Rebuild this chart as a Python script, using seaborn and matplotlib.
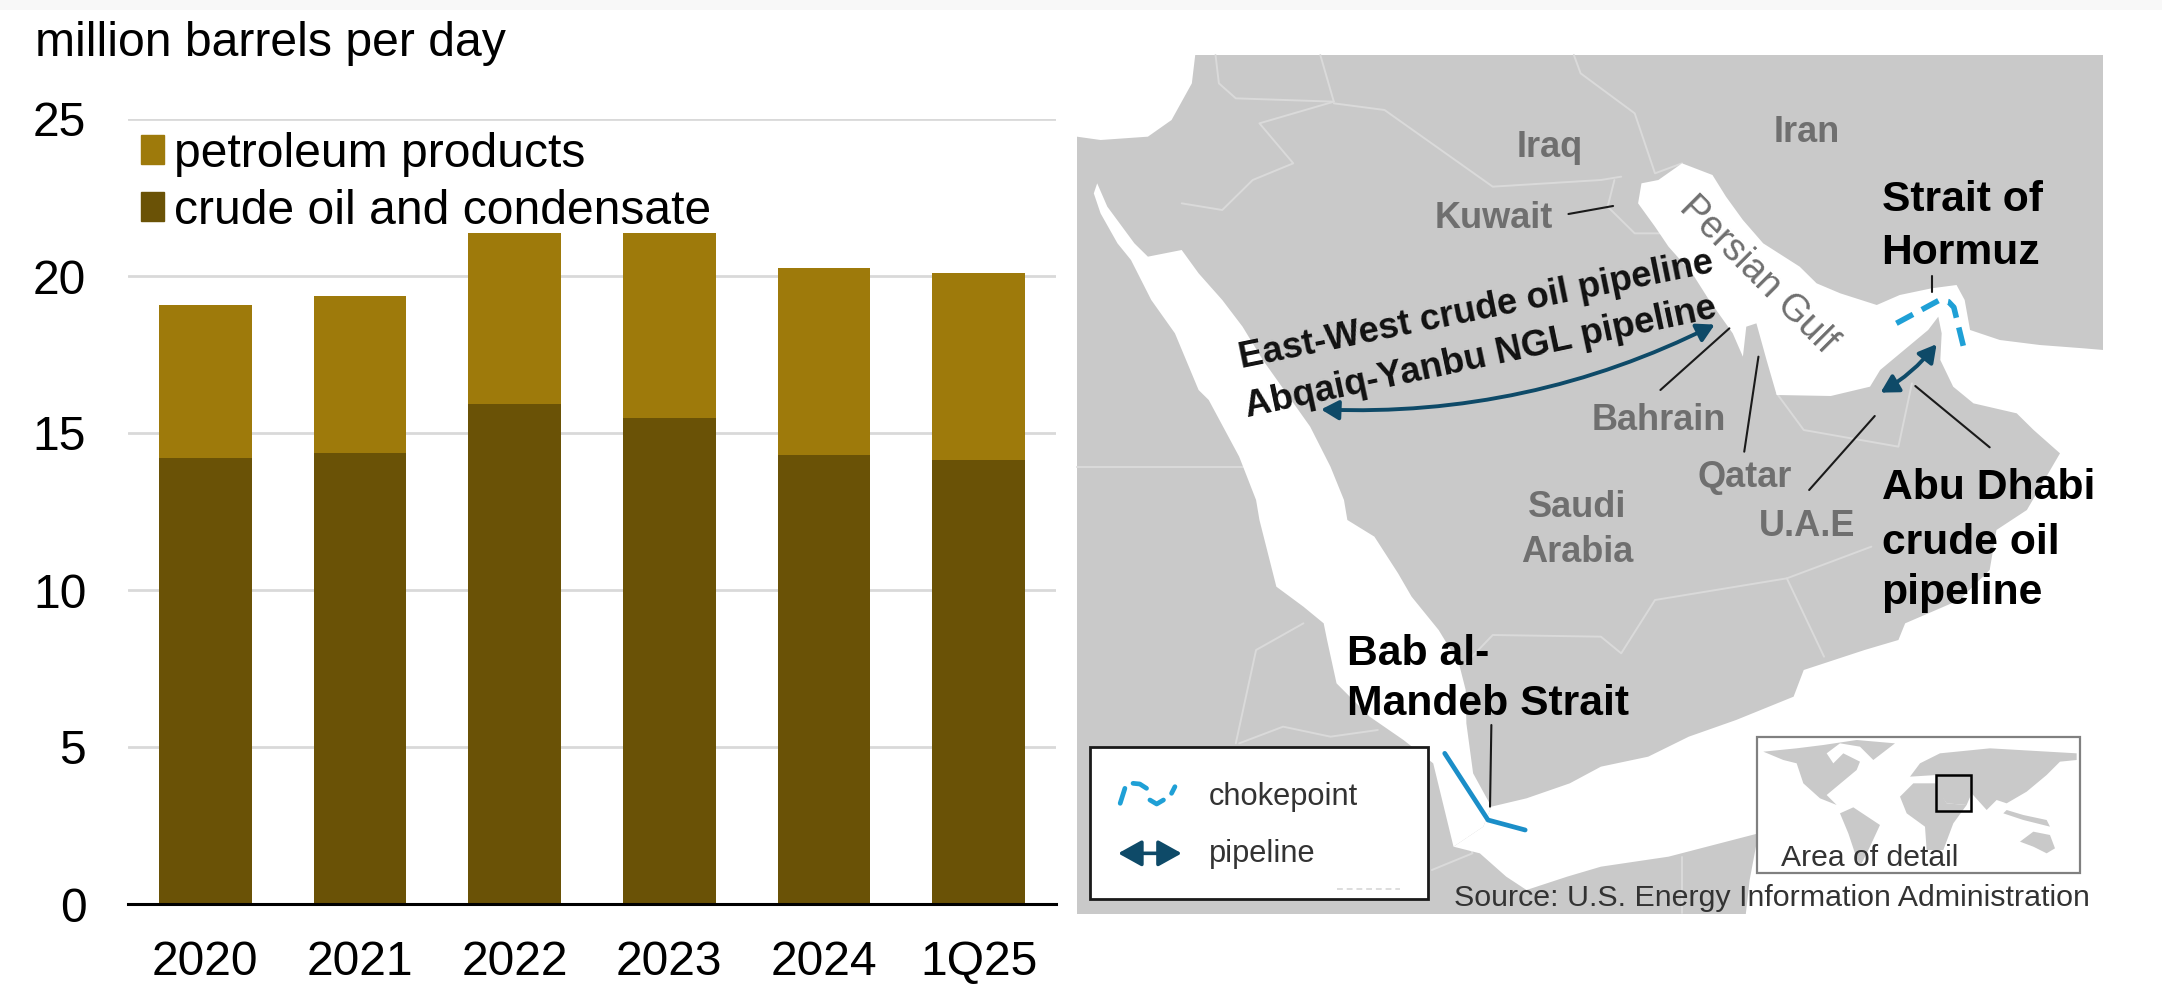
import numpy as np
import matplotlib
matplotlib.use("Agg")
import matplotlib.pyplot as plt
from matplotlib.patches import Patch, Polygon, Rectangle, FancyArrowPatch
import seaborn as sns

# Exports by period, million barrels per day
periods = ["2020", "2021", "2022", "2023", "2024", "1Q25"]
crude_oil = [14.2, 14.37, 15.92, 15.49, 14.3, 14.14]
petroleum_products = [4.88, 5.0, 5.44, 5.87, 5.95, 5.96]

PRODUCT_COLOR = "#9E7A0B"
CRUDE_COLOR = "#6A5206"
LAND = "#C9C9C9"
BORDER = "#DADADA"
NAVY = "#0E4A68"
CYAN = "#1FA0D6"
SHIFT = 1380  # offset of the southern half of the map grid


def south(points):
    return [(x, y + SHIFT) for x, y in points]


def inset(points):
    # Locator map outlines use their own finer grid
    return [(1005.7 + 0.493 * x, SHIFT + 660 + y) for x, y in points]


# Map outlines, in map grid units
mediterranean = [(25, 45), (200, 45), (195, 130), (165, 240), (130, 290), (60, 300), (25, 290)]
gulf_north = [(860, 430), (885, 420), (920, 370), (965, 405), (985, 470), (1010, 540), (1040, 610),
              (1094, 680), (1119, 730), (1154, 760), (1208, 795), (1242, 765), (1289, 745),
              (1326, 735), (1338, 780), (1346, 870), (1390, 900), (1449, 915), (1514, 925), (1543, 930),
              (1620, 930), (1620, 2700), (1010, 2700), (1020, 2520)]
aden_coast = [(1033, 1000), (900, 1070), (800, 1100), (750, 1130), (690, 1170), (660, 1130),
              (621, 1060), (582, 1040), (626, 980), (638, 920), (690, 895), (754, 850),
              (800, 800), (870, 770), (930, 710), (1000, 660), (1085, 590), (1100, 510),
              (1190, 450), (1240, 420), (1250, 370), (1330, 300), (1375, 210), (1385, 90), (1430, 30)]
gulf_south = [(1479, 1240), (1440, 1170), (1415, 1120), (1351, 1090), (1321, 1040), (1302, 960),
              (1304, 880), (1299, 830), (1284, 870), (1213, 990), (1198, 1040), (1140, 1068),
              (1060, 1065), (1045, 960), (1030, 850), (1015, 860), (1010, 950), (995, 880),
              (960, 780), (935, 700), (900, 620), (880, 560), (855, 490)]
red_sea_east = [(55, 430), (70, 500), (110, 610), (130, 650), (180, 630), (205, 700), (240, 780),
                (270, 860), (300, 960), (335, 1060), (370, 1160), (400, 1280), (420, 1380)]
red_sea_east_s = [(425, 60), (465, 110), (500, 220), (520, 290), (560, 390), (590, 490), (600, 570),
                  (601, 670), (611, 820), (638, 920), (626, 980)]
red_sea_west_s = [(582, 1040), (552, 790), (508, 720), (458, 650), (409, 550), (395, 420), (390, 370),
                  (360, 320), (320, 260), (310, 180), (295, 60)]
red_sea_west = [(290, 1380), (265, 1250), (220, 1080), (205, 1050), (170, 880), (135, 780),
                (105, 660), (85, 610), (60, 520), (50, 460)]

borders = [
    [(230, 45), (235, 130), (260, 175), (405, 185)],
    [(385, 45), (405, 185), (295, 250), (345, 370), (285, 420), (240, 510), (180, 490)],
    [(405, 190), (480, 210), (640, 440), (800, 420), (830, 410)],
    [(760, 45), (770, 100), (850, 220), (880, 400), (920, 370)],
    [(820, 420), (810, 500), (850, 580), (890, 580)],
    [(1260, 1030), (1240, 1220), (1100, 1170), (1060, 1060)],
    [(25, 1280), (270, 1280)],
    south([(1200, 140), (1075, 235), (880, 300), (830, 460), (800, 410), (640, 405), (600, 490)]),
    south([(1075, 235), (1130, 470)]),
    south([(360, 370), (290, 450), (260, 730)]),
    south([(265, 730), (330, 680), (400, 710), (470, 690)]),
    south([(550, 1110), (610, 1060), (590, 940)]),
    south([(920, 1070), (920, 1240)]),
]

leaders = [
    [(752, 522), (818, 498)],
    [(990, 865), (888, 1050)],
    [(1033, 950), (1012, 1235)],
    [(1205, 1128), (1108, 1350)],
    [(1265, 1038), (1375, 1222)],
    [(1290, 708), (1290, 755)],
    south([(638, 675), (636, 920)]),
]

# Inset world map
north_america = [(70, 95), (130, 120), (170, 130), (190, 190), (240, 235), (290, 255), (260, 225),
                 (290, 200), (350, 150), (360, 125), (310, 100), (280, 130), (260, 100), (300, 70),
                 (360, 80), (400, 120), (465, 70), (350, 60), (250, 75), (170, 85)]
south_america = [(300, 280), (340, 262), (420, 315), (390, 380), (360, 440), (345, 400), (325, 340)]
eurasia = [(540, 130), (600, 100), (750, 85), (1010, 100), (1010, 120), (960, 125), (920, 165),
           (860, 215), (800, 250), (770, 240), (740, 270), (695, 220), (680, 255), (620, 250),
           (585, 200), (590, 165), (510, 170)]
africa = [(480, 230), (520, 190), (585, 190), (620, 250), (680, 255), (640, 310), (610, 390),
          (560, 390), (555, 320), (500, 280)]
sunda = [(790, 280), (850, 300), (930, 320), (920, 300), (850, 285), (800, 270)]
australia = [(840, 365), (880, 335), (930, 345), (945, 385), (920, 400), (880, 380)]

# Place names: text, x, y
grey_labels = [("Iraq", 725, 322), ("Iran", 1105, 278), ("Kuwait", 642, 536), ("Bahrain", 885, 1142),
               ("Qatar", 1012, 1312), ("Saudi", 765, 1402), ("Arabia", 765, SHIFT + 156),
               ("U.A.E", 1105, SHIFT + 80)]
bold_labels = [("Strait of", 1215, 480), ("Hormuz", 1215, 640), ("Abu Dhabi", 1215, 1345),
               ("crude oil", 1215, SHIFT + 130), ("pipeline", 1215, SHIFT + 280),
               ("Bab al-", 425, SHIFT + 462), ("Mandeb Strait", 425, SHIFT + 612)]

sns.set_theme(style="white")
plt.rcParams["font.family"] = ["Liberation Sans", "DejaVu Sans"]

WIDTH, HEIGHT = 2162, 984
fig = plt.figure(figsize=(WIDTH / 100, HEIGHT / 100), dpi=100, facecolor="white")
fig.add_artist(Rectangle((0, 1 - 10 / HEIGHT), 1, 10 / HEIGHT, transform=fig.transFigure,
                         facecolor="#F8F8F8", edgecolor="none"))

# Stacked columns
ax = fig.add_axes([128 / WIDTH, 1 - 904 / HEIGHT, 928 / WIDTH, 785 / HEIGHT])
totals = np.array(crude_oil) + np.array(petroleum_products)
bar_style = dict(saturation=1, width=0.6, ax=ax, linewidth=0, edgecolor="none")
sns.barplot(x=periods, y=totals, color=PRODUCT_COLOR, zorder=3, **bar_style)
sns.barplot(x=periods, y=crude_oil, color=CRUDE_COLOR, zorder=4, **bar_style)
ax.set_xlim(-0.5, 5.5)
ax.set_ylim(0, 25)
ax.set_yticks([0, 5, 10, 15, 20, 25])
ax.set_xlabel("")
ax.set_ylabel("")
ax.grid(axis="y", color="#D9D9D9", linewidth=2.0, zorder=0)
ax.set_axisbelow(True)
for name in ("top", "left", "right"):
    ax.spines[name].set_visible(False)
ax.spines["bottom"].set_color("black")
ax.spines["bottom"].set_linewidth(2.2)
ax.spines["bottom"].set_zorder(6)
ax.tick_params(axis="x", length=0, pad=26, labelsize=34.6, colors="black")
ax.tick_params(axis="y", length=0, pad=30, labelsize=34.6, colors="black")
fig.text(35 / WIDTH, 1 - 44 / HEIGHT, "million barrels per day", fontsize=34.7, color="black",
         ha="left", va="center")
ax.legend(handles=[Patch(color=PRODUCT_COLOR, label="petroleum products"),
                   Patch(color=CRUDE_COLOR, label="crude oil and condensate")],
          loc="upper left", bbox_to_anchor=(131 / WIDTH, 1 - 122 / HEIGHT),
          bbox_transform=fig.transFigure, frameon=False, fontsize=34.6, labelspacing=0.25,
          handlelength=0.48, handleheight=0.55, handletextpad=0.22, borderpad=0.2, borderaxespad=0,
          labelcolor="black")

# Map panel drawn on a full-figure grid
m = fig.add_axes([0, 0, 1, 1], facecolor="none", zorder=5)
m.set_xlim(-1060 * 1.479, (WIDTH - 1060) * 1.479)
m.set_ylim((HEIGHT - 40) * 3, -40 * 3)
m.axis("off")

m.add_patch(Rectangle((25, 45), 1518, SHIFT + 1242 - 45, facecolor=LAND, edgecolor="none", zorder=1))
for path in borders:
    xs, ys = zip(*path)
    m.plot(xs, ys, color=BORDER, lw=1.4, zorder=2)
water = gulf_north + south(aden_coast) + gulf_south
red_sea = red_sea_east + south(red_sea_east_s) + south(red_sea_west_s) + red_sea_west
for shape in (mediterranean, water, red_sea):
    m.add_patch(Polygon(shape, closed=True, facecolor="white", edgecolor="none", zorder=3))

for path in leaders:
    xs, ys = zip(*path)
    m.plot(xs, ys, color="#1A1A1A", lw=1.5, zorder=5)

# Chokepoints
xs, ys = zip(*[(1237, 850), (1301, 780), (1314, 785), (1322, 802), (1336, 918)])
m.plot(xs, ys, color=CYAN, lw=4, dashes=(3.4, 1.8), zorder=6)
xs, ys = zip(*south([(569, 760), (633, 960), (688, 990)]))
m.plot(xs, ys, color="#1B8EC8", lw=3.4, zorder=6)

# Pipelines
arrow_style = "<|-|>,head_length=0.75,head_width=0.42"
m.add_patch(FancyArrowPatch((972, 850), (382, 1108), connectionstyle="arc3,rad=-0.13",
                            arrowstyle=arrow_style, mutation_scale=14, lw=2.8, color=NAVY, zorder=6))
m.add_patch(FancyArrowPatch((1299, 906), (1210, 1062), connectionstyle="arc3,rad=-0.1",
                            arrowstyle=arrow_style, mutation_scale=14, lw=2.8, color=NAVY, zorder=6))

for text, x, y in grey_labels:
    m.text(x, y, text, color="#6F6F6F", fontsize=26, fontweight="bold", ha="center", va="center", zorder=7)
m.text(1033, 705, "Persian Gulf", color="#6F6F6F", fontsize=27, rotation=-45, ha="center",
       va="center", rotation_mode="anchor", zorder=7)
for text, x, y in bold_labels:
    m.text(x, y, text, color="black", fontsize=30.7, fontweight="bold", ha="left", va="center", zorder=7)
m.text(615, 811, "East-West crude oil pipeline", color="#111111", fontsize=26.1, fontweight="bold",
       rotation=11.5, ha="center", va="center", rotation_mode="anchor", zorder=7)
m.text(622, 954, "Abqaiq-Yanbu NGL pipeline", color="#111111", fontsize=26.4, fontweight="bold",
       rotation=12, ha="center", va="center", rotation_mode="anchor", zorder=7)

# Key box
m.add_patch(Rectangle((45, SHIFT + 740), 500, 458, facecolor="white", edgecolor="#1A1A1A", lw=2, zorder=8))
choke_key = ([(89, 910), (96, 865)], [(108, 850), (118, 852), (128, 865)],
             [(133, 900), (143, 912), (153, 900)], [(165, 880), (170, 860)])
for seg in choke_key:
    xs, ys = zip(*south(seg))
    m.plot(xs, ys, color=CYAN, lw=3.4, zorder=9)
m.add_patch(FancyArrowPatch((86, SHIFT + 1060), (180, SHIFT + 1060),
                            arrowstyle="<|-|>,head_length=0.9,head_width=0.5", mutation_scale=16,
                            lw=2.6, color=NAVY, zorder=9, shrinkA=0, shrinkB=0))
m.plot([409, 503], [SHIFT + 1168, SHIFT + 1168], color="#DDDDDD", lw=1.4, dashes=(3, 2), zorder=9)
m.text(220, SHIFT + 892, "chokepoint", color="#333333", fontsize=22.2, ha="left", va="center", zorder=9)
m.text(220, SHIFT + 1062, "pipeline", color="#333333", fontsize=22.2, ha="left", va="center", zorder=9)

# Locator inset
m.add_patch(Rectangle((1031, SHIFT + 712), 478, 406, facecolor="white", edgecolor="#808080", lw=1.6, zorder=8))
for shape in (north_america, south_america, eurasia, africa, sunda, australia):
    m.add_patch(Polygon(inset(shape), closed=True, facecolor=LAND, edgecolor="none", zorder=9))
m.add_patch(Rectangle((1296, SHIFT + 825), 52, 107, facecolor="none", edgecolor="black", lw=1.8, zorder=10))
m.text(1066, SHIFT + 1075, "Area of detail", color="#333333", fontsize=21.7, ha="left", va="center", zorder=11)
m.text(582, SHIFT + 1195, "Source: U.S. Energy Information Administration", color="#333333",
       fontsize=21.9, ha="left", va="center", zorder=11)

fig.savefig("out.png", dpi=100)
